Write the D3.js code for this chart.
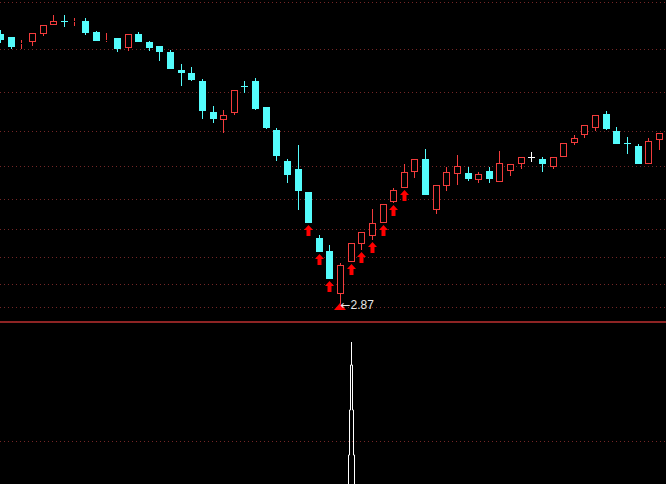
<!DOCTYPE html>
<html><head><meta charset="utf-8">
<script src="https://cdn.jsdelivr.net/npm/d3@7/dist/d3.min.js"></script>
<style>html,body{margin:0;padding:0;background:#000;overflow:hidden}svg{display:block}</style>
</head><body>
<svg id="c" width="666" height="484"></svg>
<script>
// ---- data ----
const openP  = [5.81,5.78,5.70,5.72,5.81,5.91,5.95,5.94,5.95,5.83,5.74,5.77,5.66,5.81,5.72,5.68,5.62,5.42,5.39,5.30,
                4.96,4.87,4.95,5.24,5.30,5.02,4.77,4.43,4.34,4.09,3.59,3.45,2.98,3.33,3.52,3.61,3.75,3.98,4.13,4.31,
                4.45,3.89,4.16,4.29,4.30,4.22,4.32,4.20,4.32,4.40,4.47,4.45,4.36,4.47,4.62,4.71,4.79,4.94,4.75,4.62,
                4.59,4.40,4.66];
const closeP = [5.75,5.67,5.71,5.82,5.91,5.95,5.94,5.95,5.82,5.74,5.75,5.65,5.81,5.72,5.66,5.62,5.43,5.39,5.31,4.97,
                4.89,4.93,5.20,5.23,4.99,4.79,4.48,4.28,4.10,3.75,3.44,3.14,3.29,3.53,3.65,3.75,3.96,4.11,4.31,4.45,
                4.06,4.17,4.31,4.37,4.23,4.29,4.23,4.41,4.40,4.47,4.47,4.40,4.47,4.62,4.68,4.82,4.93,4.78,4.61,4.61,
                4.40,4.65,4.73];
const highP  = [5.85,5.78,5.75,5.82,5.91,6.02,6.02,5.98,5.99,5.84,5.82,5.77,5.81,5.83,5.73,5.68,5.64,5.48,5.45,5.32,
                5.03,4.98,5.20,5.30,5.33,5.02,4.79,4.45,4.60,4.09,3.62,3.51,3.32,3.53,3.65,3.90,3.96,4.13,4.40,4.45,
                4.56,4.17,4.36,4.49,4.36,4.31,4.36,4.54,4.40,4.47,4.53,4.47,4.47,4.62,4.71,4.82,4.93,4.97,4.80,4.69,
                4.61,4.68,4.73];
const lowP   = [5.71,5.65,5.65,5.68,5.79,5.91,5.89,5.90,5.80,5.74,5.72,5.62,5.63,5.72,5.63,5.52,5.43,5.24,5.30,4.89,
                4.84,4.73,4.93,5.17,4.98,4.78,4.43,4.19,3.89,3.75,3.44,3.14,2.87,3.33,3.46,3.57,3.75,3.97,4.13,4.24,
                4.06,3.85,4.10,4.17,4.21,4.19,4.19,4.20,4.26,4.34,4.42,4.31,4.34,4.47,4.60,4.68,4.75,4.77,4.61,4.50,
                4.40,4.40,4.55];
const buySignals = [29,30,31,33,34,35,36,37,38];   // bars with a red up-arrow
const lowIndex = 32;                                // bar of the lowest low
const lowArrow = "←";
const lowValue = "2.87";
const priceGrid = [2.834,3.085,3.377,3.692,4.011,4.373,4.751,5.176,5.645,6.157];
// lower indicator panel
const spikeIndex = 33;
const spikeTops = [87.7, 73.5, 45.7, 17.9];
const spikeSteps = [0, 1, 2, 3];
const indicatorGrid = [26.5];

// ---- drawing ----
const W = 666, H = 484;
const UP = "#f23c3c", DOWN = "#54fcfc", FLAT = "#ffffff", GRID = "#742626";
const svg = d3.select("#c");
svg.append("rect").attr("width", W).attr("height", H).attr("fill", "#000");

const days = openP.map((d, i) => i);
const x = d3.scaleBand().domain(days).range([-4.43, -4.43 + 10.623 * days.length]).padding(0);
const y = d3.scaleLinear().domain([2.87, 6.1815]).range([304, 0]);
const yi = d3.scaleLinear().domain([0, 100]).range([484, 322]);

const leftOf = i => Math.round(x(i) + x.bandwidth() / 2 - 3.75);

// grid lines
const g = svg.append("g");
g.selectAll("line.pg").data(priceGrid).join("line")
  .attr("x1", 0).attr("x2", W)
  .attr("y1", d => Math.round(y(d)) + 0.5).attr("y2", d => Math.round(y(d)) + 0.5)
  .attr("stroke", GRID).attr("stroke-width", 1).attr("stroke-dasharray", "1,3");
g.selectAll("line.ig").data(indicatorGrid).join("line")
  .attr("x1", 0).attr("x2", W)
  .attr("y1", d => Math.round(yi(d)) + 0.5).attr("y2", d => Math.round(yi(d)) + 0.5)
  .attr("stroke", GRID).attr("stroke-width", 1).attr("stroke-dasharray", "1,3");
// panel separator
svg.append("line").attr("x1", 0).attr("x2", W).attr("y1", yi(100)).attr("y2", yi(100))
  .attr("stroke", "#8e2424").attr("stroke-width", 2);

// candles
const cg = svg.append("g");
days.forEach(i => {
  const o = openP[i], c = closeP[i], h = highP[i], l = lowP[i];
  const col = c > o ? UP : (c < o ? DOWN : FLAT);
  const L = leftOf(i), cx = L + 3.5;
  const yTop = Math.round(y(Math.max(o, c))), yBot = Math.round(y(Math.min(o, c)));
  const yH = Math.round(y(h)), yL = Math.round(y(l));
  if (yH < yTop) cg.append("line").attr("x1", cx).attr("x2", cx).attr("y1", yH).attr("y2", yTop).attr("stroke", col);
  if (yL > yBot) cg.append("line").attr("x1", cx).attr("x2", cx).attr("y1", yBot).attr("y2", yL).attr("stroke", col);
  if (c > o) {
    cg.append("rect").attr("x", L + 0.5).attr("y", yTop + 0.5)
      .attr("width", 6).attr("height", Math.max(0, yBot - yTop - 1))
      .attr("fill", "#000").attr("stroke", col).attr("stroke-width", 1);
  } else {
    cg.append("rect").attr("x", L).attr("y", yTop)
      .attr("width", 7).attr("height", Math.max(1, yBot - yTop))
      .attr("fill", col);
  }
});

// buy arrows
svg.append("g").selectAll("path").data(buySignals).join("path")
  .attr("fill", "#ff0000")
  .attr("d", i => {
    const cx = leftOf(i) + 3.5, t = Math.round(y(lowP[i])) + 2;
    return `M${cx},${t} L${cx + 4.5},${t + 5} L${cx + 2},${t + 5} L${cx + 2},${t + 11} L${cx - 2},${t + 11} L${cx - 2},${t + 5} L${cx - 4.5},${t + 5} Z`;
  });

// lowest-low marker
{
  const cx = leftOf(lowIndex) + 3.5, yl = Math.round(y(lowP[lowIndex]));
  svg.append("path").attr("fill", "#ff0000")
    .attr("d", `M${cx - 0.5},${yl - 1} L${cx + 5.5},${yl + 6} L${cx - 6.5},${yl + 6} Z`);
  const t = svg.append("text").attr("x", cx).attr("y", yl + 4.5)
    .attr("font-family", "Liberation Sans, Arial, sans-serif").attr("font-size", 12)
    .attr("fill", "#e6e6e6");
  t.append("tspan").attr("font-family", "DejaVu Sans").attr("font-size", 12).text(lowArrow);
  t.append("tspan").text(lowValue);
}

// indicator spike (stepped hollow stick)
{
  const cx = leftOf(spikeIndex) + 3.5;
  const base = yi(0);
  const n = spikeTops.length;
  const pts = [];
  pts.push([cx - spikeSteps[n - 1], base]);
  for (let k = n - 1; k >= 0; k--) {
    const yt = Math.round(yi(spikeTops[k]));
    pts.push([cx - spikeSteps[k], yt]);
    if (k > 0) pts.push([cx - spikeSteps[k - 1], yt]);
  }
  for (let k = 0; k < n; k++) {
    const yt = k === 0 ? Math.round(yi(spikeTops[1])) : Math.round(yi(spikeTops[k]));
    if (k === 0) { pts.push([cx, yt]); continue; }
    pts.push([cx + spikeSteps[k], yt]);
    const ynext = k + 1 < n ? Math.round(yi(spikeTops[k + 1])) : base;
    pts.push([cx + spikeSteps[k], ynext]);
  }
  svg.append("path").attr("d", d3.line()(pts)).attr("fill", "none")
    .attr("stroke", "#ffffff").attr("stroke-width", 1);
}
</script>
</body></html>
